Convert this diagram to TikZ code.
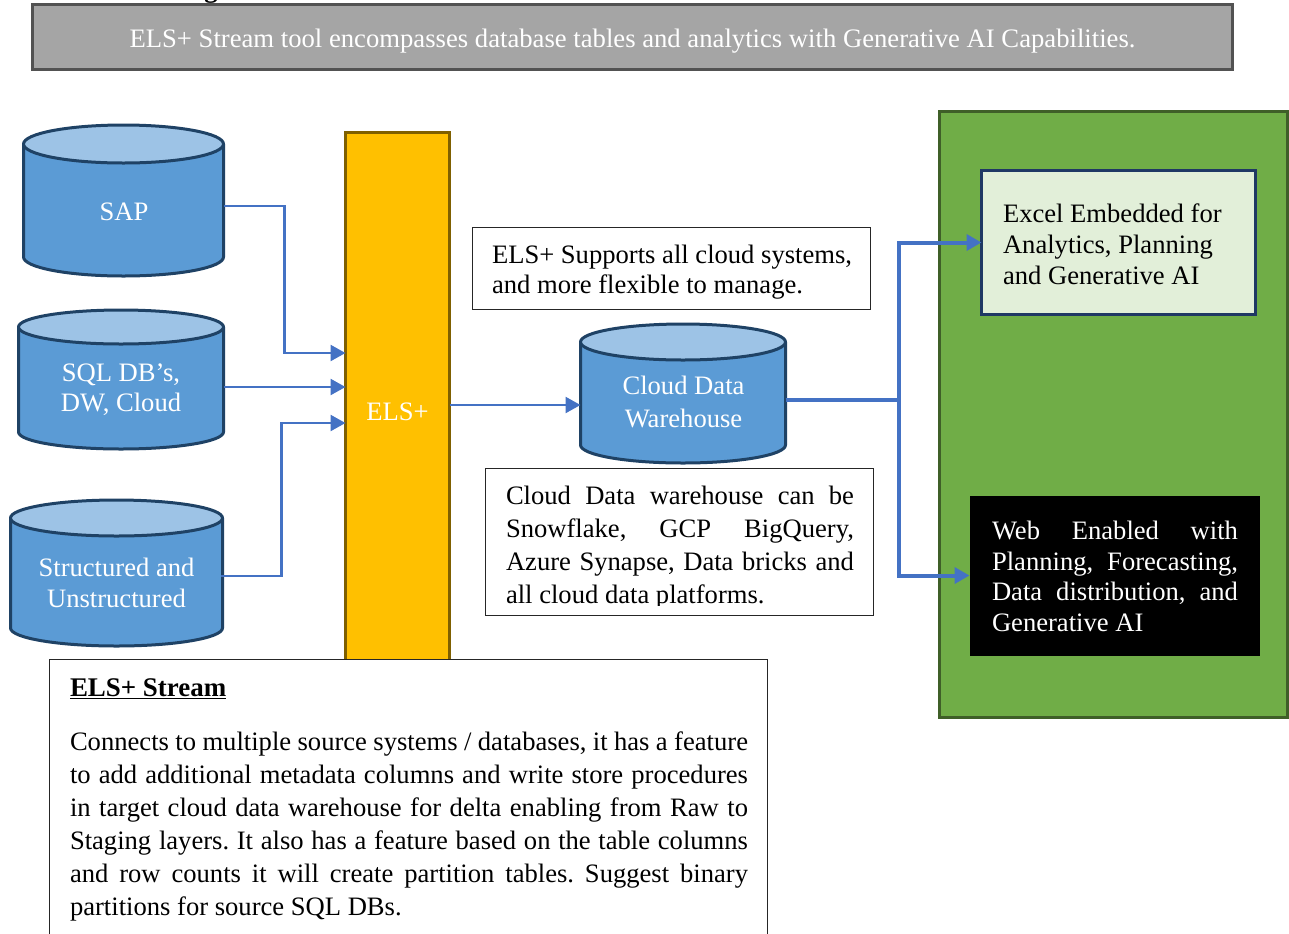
\documentclass[tikz,border=0pt]{standalone}
\usepackage{fontspec}
\setmainfont{Liberation Serif}
\usetikzlibrary{calc,arrows.meta}
\definecolor{hdrfill}{HTML}{A5A5A5}
\definecolor{hdrline}{HTML}{525252}
\definecolor{dbfill}{HTML}{5B9BD5}
\definecolor{dbtop}{HTML}{9DC3E6}
\definecolor{dbline}{HTML}{1F4265}
\definecolor{elsfill}{HTML}{FFC000}
\definecolor{elsline}{HTML}{7F6000}
\definecolor{grn}{HTML}{70AD47}
\definecolor{grnline}{HTML}{3F5F28}
\definecolor{pale}{HTML}{E2EFD9}
\definecolor{navy}{HTML}{1F3864}
\definecolor{conn}{HTML}{4472C4}
\newcommand{\bodyfont}{\fontsize{19.95}{24.75}\selectfont}
\newcommand{\dbcyl}[6]{% name, x1, y1, x2, y2, minor radius
  \pgfmathsetmacro{\cylrx}{(#4-#2)/2}
  \pgfmathsetmacro{\cylcx}{(#4+#2)/2}
  \pgfmathsetmacro{\cylcy}{(#5+#3)/2}
  \pgfmathsetmacro{\cylta}{#3+#6}
  \pgfmathsetmacro{\cyltb}{#5-#6}
  \pgfmathsetmacro{\cylw}{(#4-#2)*0.75}
  \pgfmathsetmacro{\cylh}{(#5-#3)*0.75}
  \filldraw[dbshape,fill=dbfill] (#2,\cylta) -- (#2,\cyltb)
    arc[start angle=180,end angle=0,x radius=\cylrx,y radius=#6] -- (#4,\cylta) -- cycle;
  \filldraw[dbshape,fill=dbtop] (\cylcx,\cylta) ellipse[x radius=\cylrx,y radius=#6];
  \node[minimum width=\cylw pt,minimum height=\cylh pt,inner sep=0pt,outer sep=0pt] (#1) at (\cylcx,\cylcy) {};
}
\tikzset{
  x=0.75pt,y=-0.75pt,
  dbshape/.style={draw=dbline,line width=2.25pt,line join=round},
  dbtext/.style={anchor=north,inner sep=0pt,outer sep=0pt,text=white,align=center},
  basetext/.style={anchor=base,inner sep=0pt,outer sep=0pt,text=white},
  note/.style={draw=black!85,line width=0.75pt,fill=white,inner sep=0pt,outer sep=0pt},
  solid box/.style={line width=2.25pt,inner sep=0pt,outer sep=0pt},
  ntext/.style={anchor=north west,inner sep=0pt,outer sep=0pt,font=\bodyfont,align=justify},
  lefttext/.style={anchor=north west,inner sep=0pt,outer sep=0pt,align=flush left},
  link/.style={draw=conn,line width=1.8pt,-{Triangle[length=11.25pt,width=12pt]}},
  linkb/.style={draw=conn,line width=3pt,-{Triangle[length=11.25pt,width=12pt]}},
}
\begin{document}
\begin{tikzpicture}
\useasboundingbox (0,0) rectangle (1289,933);
\clip (0,0) rectangle (1289,933);
\frenchspacing
\hyphenpenalty=10000 \exhyphenpenalty=10000 \tolerance=9999
% header
\node[anchor=base,inner sep=0pt,font=\fontsize{20}{24}\selectfont\bfseries] (cut) at (211,-2.5) {g};
\node[draw=hdrline,fill=hdrfill,solid box,minimum width=1200*0.75pt,minimum height=65*0.75pt] (hdr) at (632.5,36.5) {};
\node[basetext,font=\fontsize{20}{24}\selectfont] (hdrt) at (632.5,47.7) {ELS+ Stream tool encompasses database tables and analytics with Generative AI Capabilities.};
% green panel
\node[draw=grnline,fill=grn,solid box,minimum width=348*0.75pt,minimum height=606*0.75pt] (panel) at (1113.5,414.5) {};
% ELS bar
\node[draw=elsline,fill=elsfill,solid box,minimum width=104*0.75pt,minimum height=546*0.75pt] (els) at (397.5,405) {};
\node[basetext,font=\bodyfont] (elst) at (397.5,420) {ELS+};
% databases
\dbcyl{sap}{23.5}{125}{223.5}{276}{19}
\node[dbtext,font=\fontsize{19.95}{23}\selectfont] (sapt) at (124,203) {SAP};
\dbcyl{sql}{18.5}{310}{223.5}{449}{17}
\node[dbtext,font=\fontsize{19.95}{22.5}\selectfont] (sqlt) at (121,363.5) {SQL DB’s,\\DW, Cloud};
\dbcyl{uns}{10.5}{500}{222.5}{646}{18}
\node[dbtext,font=\fontsize{19.95}{23}\selectfont] (unst) at (116.5,558.5) {Structured and\\Unstructured};
\dbcyl{cdw}{580.5}{324}{785.5}{463}{18}
\node[dbtext,font=\fontsize{19.95}{24.75}\selectfont] (cdwt) at (683.5,376.5) {Cloud Data\\Warehouse};
% notes
\node[note,minimum width=398*0.75pt,minimum height=82*0.75pt] (n1) at (671.5,268.5) {};
\node[lefttext,text width=378*0.75pt,font=\fontsize{19.95}{22.5}\selectfont] (n1t) at (492,245) {ELS+ Supports all cloud systems,\\and more flexible to manage.};
\node[note,minimum width=388*0.75pt,minimum height=147*0.75pt] (n2) at (679.5,542) {};
\begin{scope}
\clip (487,470) rectangle (873,605);
\node[ntext,text width=348*0.75pt] (n2t) at (506,486) {Cloud Data warehouse can be\linebreak Snowflake, GCP BigQuery,\linebreak Azure Synapse, Data bricks and\linebreak all cloud data platforms.};
\end{scope}
% targets
\node[draw=navy,fill=pale,solid box,minimum width=274*0.75pt,minimum height=144*0.75pt] (excel) at (1118.5,242.5) {};
\node[lefttext,text width=245*0.75pt,font=\fontsize{19.95}{23}\selectfont] (excelt) at (1003,204) {Excel Embedded for\\Analytics, Planning\\and Generative AI};
\node[fill=black,minimum width=290*0.75pt,minimum height=160*0.75pt,inner sep=0pt,outer sep=0pt] (web) at (1114.5,575.5) {};
\node[ntext,text width=246*0.75pt,text=white,font=\fontsize{19.95}{23}\selectfont] (webt) at (992,521) {Web Enabled with\linebreak Planning, Forecasting,\linebreak Data distribution, and\linebreak Generative AI};
% bottom box
\node[note,minimum width=718*0.75pt,minimum height=320*0.75pt] (n3) at (408.5,819.5) {};
\node[ntext,text width=678*0.75pt] (n3t) at (70,678.5) {{\fontsize{20.2}{24.75}\selectfont\bfseries\underline{ELS+ Stream}}\par\vspace{15.75pt}Connects to multiple source systems / databases, it has a feature\linebreak to add additional metadata columns and write store procedures\linebreak in target cloud data warehouse for delta enabling from Raw to\linebreak Staging layers. It also has a feature based on the table columns\linebreak and row counts it will create partition tables. Suggest binary\linebreak partitions for source SQL DBs.};
% connectors
\draw[link] ($(sap.east)+(0,5.5)$) -- ++(61,0) |- ($(els.west)+(0,-52)$);
\draw[link] ($(sql.east)+(0,7.5)$) -- ($(els.west)+(0,-18)$);
\draw[link] ($(uns.east)+(-2,3)$) -- ++(61,0) |- ($(els.west)+(0,18)$);
\draw[link] (els.east) -- (els.east -| cdw.west);
\draw[linkb] ($(cdw.east)+(0,6.5)$) -- ++(113,0) |- (excel.west);
\draw[linkb] ($(cdw.east)+(0,6.5)$) -- ++(113,0) |- (web.west);
\end{tikzpicture}
\end{document}
